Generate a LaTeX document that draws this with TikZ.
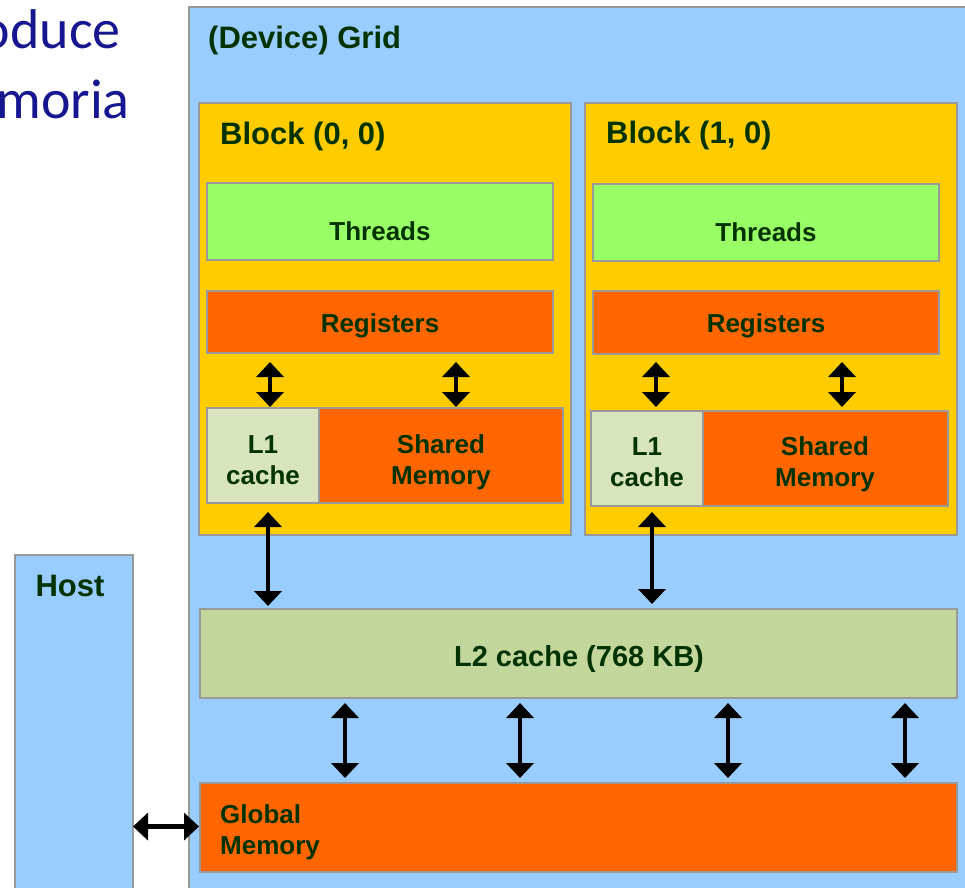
\documentclass[tikz,border=0pt]{standalone}
\usepackage{fontspec}
\setmainfont{Liberation Sans}
\newfontfamily\slidefont{Carlito}
\usetikzlibrary{arrows.meta,calc}
\definecolor{gridblue}{RGB}{153,204,255}
\definecolor{blockyellow}{RGB}{255,204,0}
\definecolor{thrgreen}{RGB}{153,255,102}
\definecolor{memorange}{RGB}{255,102,0}
\definecolor{lonecol}{RGB}{216,228,190}
\definecolor{ltwocol}{RGB}{195,214,155}
\definecolor{txtgreen}{RGB}{0,51,0}
\definecolor{bordergray}{RGB}{153,153,153}
\definecolor{slideblue}{RGB}{22,22,145}
\begin{document}
\begin{tikzpicture}[x=1pt,y=-1pt,
  box/.style={draw=bordergray,line width=1.5pt,anchor=north west,inner sep=0pt,outer sep=0pt},
  lbl/.style={text=txtgreen,font=\bfseries\fontsize{26}{31}\selectfont,inner sep=0pt,align=center},
  head/.style={text=txtgreen,font=\bfseries\fontsize{31}{36}\selectfont,inner sep=0pt},
  dar/.style={line width=4.5pt,{Triangle[width=27pt,length=15pt]}-{Triangle[width=27pt,length=15pt]}}]
\clip (0,0) rectangle (965,887);
% slide text fragments
\node[anchor=base east,text=slideblue,font=\slidefont\fontsize{56}{62}\selectfont,inner sep=0pt] (t1) at (121,48) {oduce};
\node[anchor=base east,text=slideblue,font=\slidefont\fontsize{56}{62}\selectfont,inner sep=0pt] (t2) at (130,118) {moria};
% containers
\node[box,fill=gridblue,minimum width=811pt,minimum height=893pt] (grid) at (189,7) {};
\node[box,fill=gridblue,minimum width=118pt,minimum height=345pt] (host) at (15,555) {};
\node[box,fill=blockyellow,minimum width=372pt,minimum height=432pt] (blk0) at (199,103) {};
\node[box,fill=blockyellow,minimum width=372pt,minimum height=432pt] (blk1) at (585,103) {};
% block 0
\node[box,fill=thrgreen,minimum width=346pt,minimum height=77pt] (thr0) at (207,183) {};
\node[box,fill=memorange,minimum width=346pt,minimum height=62pt] (reg0) at (207,291) {};
\node[box,fill=lonecol,minimum width=112pt,minimum height=95pt] (l1a) at (207,408) {};
\node[box,fill=memorange,minimum width=244pt,minimum height=95pt] (sh0) at (319,408) {};
% block 1
\node[box,fill=thrgreen,minimum width=346pt,minimum height=77pt] (thr1) at (593,184) {};
\node[box,fill=memorange,minimum width=346pt,minimum height=63pt] (reg1) at (593,291) {};
\node[box,fill=lonecol,minimum width=112pt,minimum height=95pt] (l1b) at (591,411) {};
\node[box,fill=memorange,minimum width=245pt,minimum height=95pt] (sh1) at (703,411) {};
% L2 and global memory
\node[box,fill=ltwocol,minimum width=757pt,minimum height=89pt] (l2) at (200,609) {};
\node[box,fill=memorange,minimum width=757pt,minimum height=89pt] (gm) at (200,783) {};
% labels
\node[head,anchor=base west] (gridlbl) at (208,48) {(Device) Grid};
\node[head,anchor=base west] (blk0lbl) at (220,144) {Block (0, 0)};
\node[head,anchor=base west] (blk1lbl) at (606,143) {Block (1, 0)};
\node[head,anchor=base] (hostlbl) at (70,596) {Host};
\node[lbl,anchor=base] (thr0lbl) at (380,240) {Threads};
\node[lbl,anchor=base] (thr1lbl) at (766,241) {Threads};
\node[lbl,anchor=base] (reg0lbl) at (380,332) {Registers};
\node[lbl,anchor=base] (reg1lbl) at (766,332) {Registers};
\node[lbl,anchor=north] (l1albl) at (263,435) {L1\\cache};
\node[lbl,anchor=north] (sh0lbl) at (441,434) {Shared\\Memory};
\node[lbl,anchor=north] (l1blbl) at (647,437) {L1\\cache};
\node[lbl,anchor=north] (sh1lbl) at (825,436) {Shared\\Memory};
\node[lbl,anchor=base,font=\bfseries\fontsize{29}{34}\selectfont] (l2lbl) at (579,666) {L2 cache (768 KB)};
\node[lbl,anchor=north west,align=left] (gmlbl) at (220,804) {Global\\Memory};
% arrows registers <-> L1 / shared
\draw[dar] ($(reg0.south west)+(63,9)$) -- ($(reg0.south west)+(63,54)$);
\draw[dar] ($(reg0.south west)+(249,9)$) -- ($(reg0.south west)+(249,54)$);
\draw[dar] ($(reg1.south west)+(63,8)$) -- ($(reg1.south west)+(63,53)$);
\draw[dar] ($(reg1.south west)+(249,8)$) -- ($(reg1.south west)+(249,53)$);
% L1 <-> L2
\draw[dar] ($(l1a.south west)+(61,9)$) -- ($(l1a.south west)+(61,103)$);
\draw[dar] ($(l1b.south west)+(61,6)$) -- ($(l1b.south west)+(61,98)$);
% L2 <-> global memory
\draw[dar] ($(l2.south west)+(145,5)$) -- ($(l2.south west)+(145,80)$);
\draw[dar] ($(l2.south west)+(320,5)$) -- ($(l2.south west)+(320,80)$);
\draw[dar] ($(l2.south west)+(528,5)$) -- ($(l2.south west)+(528,80)$);
\draw[dar] ($(l2.south west)+(705,5)$) -- ($(l2.south west)+(705,80)$);
% host <-> global memory
\draw[dar] ($(host.east |- gm.west)+(0,-1)$) -- ($(gm.west)+(-1,-1)$);
\end{tikzpicture}
\end{document}
